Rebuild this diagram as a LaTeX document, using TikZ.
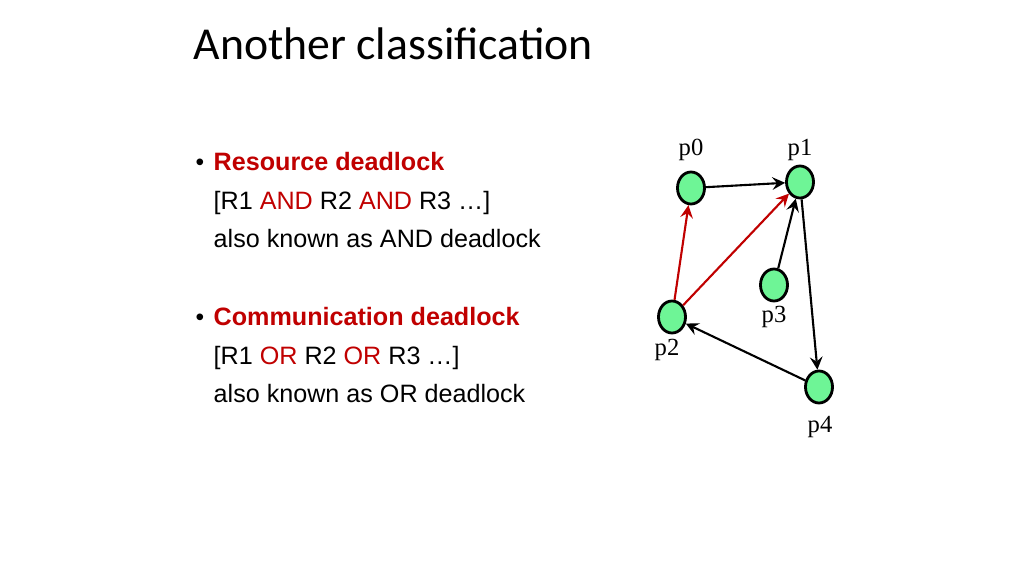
\documentclass[tikz,border=0pt]{standalone}
\usepackage{fontspec}
\setmainfont{Liberation Sans}
\newfontfamily\titlefont{Carlito}
\newfontfamily\labfont{Liberation Serif}
\usetikzlibrary{shapes.geometric}
\definecolor{darkred}{RGB}{192,0,0}
\definecolor{procgreen}{RGB}{110,245,150}

\begin{document}
\begin{tikzpicture}[x=0.01cm,y=-0.01cm,
  proc/.style={ellipse, draw, thick, fill=procgreen, minimum width=0.27cm, minimum height=0.32cm, inner sep=0pt},
  lab/.style={font=\labfont\fontsize{7}{8}\selectfont},
  body/.style={anchor=base west, font=\fontsize{7.15}{8}\selectfont},
  edge/.style={->, >=stealth, semithick},
  redge/.style={edge, darkred}]
\useasboundingbox (0,0) rectangle (1024,576);

% Title
\node[anchor=base west, inner sep=0pt, font=\titlefont\fontsize{13}{15}\selectfont] (title) at (193,60) {Another classification};

% Text
\node[anchor=base west, inner sep=0pt, font=\fontsize{7}{8}\selectfont] (b1) at (195,171) {\textbullet};
\node[body, inner sep=0pt, text=darkred] (t1) at (213,171) {\textbf{Resource deadlock}};
\node[body, inner sep=0pt] (t2) at (213,210) {[R1 \textcolor{darkred}{AND} R2 \textcolor{darkred}{AND} R3 \dots]};
\node[body, inner sep=0pt] (t3) at (213,248) {also known as AND deadlock};
\node[anchor=base west, inner sep=0pt, font=\fontsize{7}{8}\selectfont] (b2) at (195,325) {\textbullet};
\node[body, inner sep=0pt, text=darkred] (t4) at (213,325) {\textbf{Communication deadlock}};
\node[body, inner sep=0pt] (t5) at (213,364) {[R1 \textcolor{darkred}{OR} R2 \textcolor{darkred}{OR} R3 \dots]};
\node[body, inner sep=0pt] (t6) at (213,402) {also known as OR deadlock};

% Processes
\node[proc] (p0) at (691,188) {};
\node[proc] (p1) at (800,182) {};
\node[proc] (p3) at (774,285) {};
\node[proc] (p2) at (672,317) {};
\node[proc] (p4) at (819,387) {};

\node[lab] (l0) at (691,150) {p0};
\node[lab] (l1) at (800,150) {p1};
\node[lab] (l3) at (774,317) {p3};
\node[lab] (l2) at (667,350) {p2};
\node[lab] (l4) at (820,427) {p4};

% Edges
\draw[edge] (p0) -- (p1);
\draw[redge] (p2) -- (p0);
\draw[redge] (p2) -- (p1);
\draw[edge] (p3) -- (p1);
\draw[edge] (p1) -- (p4);
\draw[edge] (p4) -- (p2);
\end{tikzpicture}
\end{document}
